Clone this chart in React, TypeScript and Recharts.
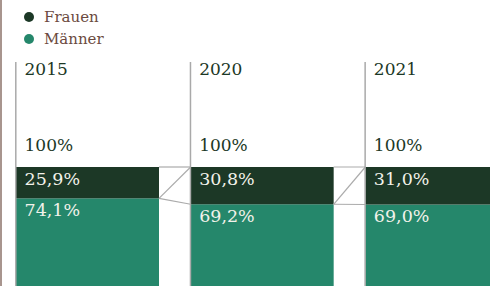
import { BarChart, Bar, XAxis, YAxis } from "recharts";

const years = ["2015", "2020", "2021"];
const frauen = [25.9, 30.8, 31.0];
const maenner = [74.1, 69.2, 69.0];

const seriesNames = ["Frauen", "Männer"];

const COLORS = {
  frauen: "#1c3826",
  maenner: "#25876b",
  connector: "#ababab",
  frame: "#a9a9a9",
  label: "#1c3826",
  inner: "#f2f2ea",
  legend: "#6b4a40",
  edge: "#a8958e",
};

const FONT = "'DejaVu Serif', serif";
const CHART_W = 524;
const CHART_H = 288;
const STEP = CHART_W / years.length;

const data = years.map((year, i) => ({ year, frauen: frauen[i], maenner: maenner[i] }));

function fmt(v: number): string {
  return v.toFixed(1).replace(".", ",") + "%";
}

function MaennerShape(props: any) {
  const { x, y, width, height, payload } = props;
  return (
    <g>
      <rect x={x} y={y} width={width} height={height} fill={COLORS.maenner} />
      <text x={x + 8.5} y={y + 17.5} fontFamily={FONT} fontSize={17.5} fill={COLORS.inner}>
        {fmt(payload.maenner)}
      </text>
    </g>
  );
}

function FrauenShape(props: any) {
  const { x, y, width, height, payload, index } = props;
  const k = height / payload.frauen;
  const total = payload.frauen + payload.maenner;
  const bottom = y + total * k;
  const boundary = y + height;
  const next = data[index + 1];
  let connectors = null;
  if (next) {
    const nx = x + STEP;
    const nTop = bottom - (next.frauen + next.maenner) * k;
    const nBoundary = nTop + next.frauen * k;
    connectors = (
      <g stroke={COLORS.connector} strokeWidth={1.2}>
        <line x1={x + width} y1={y} x2={nx} y2={nTop} />
        <line x1={x + width} y1={boundary} x2={nx} y2={nTop} />
        <line x1={x + width} y1={boundary} x2={nx} y2={nBoundary} />
      </g>
    );
  }
  return (
    <g>
      <rect x={x} y={y} width={width} height={height} fill={COLORS.frauen} />
      {connectors}
      <line x1={x - 0.2} y1={y - 105} x2={x - 0.2} y2={bottom} stroke={COLORS.frame} strokeWidth={1.5} />
      <text x={x + 8.5} y={y - 92} fontFamily={FONT} fontSize={17} fill={COLORS.label}>
        {payload.year}
      </text>
      <text x={x + 8.5} y={y - 16.3} fontFamily={FONT} fontSize={17} fill={COLORS.label}>
        {Math.round(total) + "%"}
      </text>
      <text x={x + 8.5} y={y + 17.5} fontFamily={FONT} fontSize={17.5} fill={COLORS.inner}>
        {fmt(payload.frauen)}
      </text>
    </g>
  );
}

export default function App() {
  const legendColors = [COLORS.frauen, COLORS.maenner];
  return (
    <div
      style={{
        position: "absolute",
        left: 0,
        top: 0,
        width: 490,
        height: 286,
        overflow: "hidden",
        background: "#fff",
        fontFamily: FONT,
      }}
    >
      <div style={{ position: "absolute", left: 0, top: 0, width: 1.5, height: 286, background: COLORS.edge }} />
      <div style={{ position: "absolute", left: 24, top: 6 }}>
        {seriesNames.map((name, i) => (
          <div key={name} style={{ display: "flex", alignItems: "center", height: 22 }}>
            <span
              style={{
                display: "inline-block",
                width: 10,
                height: 10,
                borderRadius: "50%",
                background: legendColors[i],
                marginRight: 10,
              }}
            />
            <span style={{ fontSize: 15, color: COLORS.legend }}>{name}</span>
          </div>
        ))}
      </div>
      <div style={{ position: "absolute", left: 0, top: 0 }}>
        <BarChart
          width={CHART_W}
          height={CHART_H}
          data={data}
          margin={{ top: 167, right: 0, bottom: 0, left: 0 }}
          barSize={143}
        >
          <XAxis dataKey="year" hide />
          <YAxis hide domain={[0, 100]} />
          <Bar dataKey="maenner" stackId="a" shape={<MaennerShape />} isAnimationActive={false} />
          <Bar dataKey="frauen" stackId="a" shape={<FrauenShape />} isAnimationActive={false} />
        </BarChart>
      </div>
    </div>
  );
}
